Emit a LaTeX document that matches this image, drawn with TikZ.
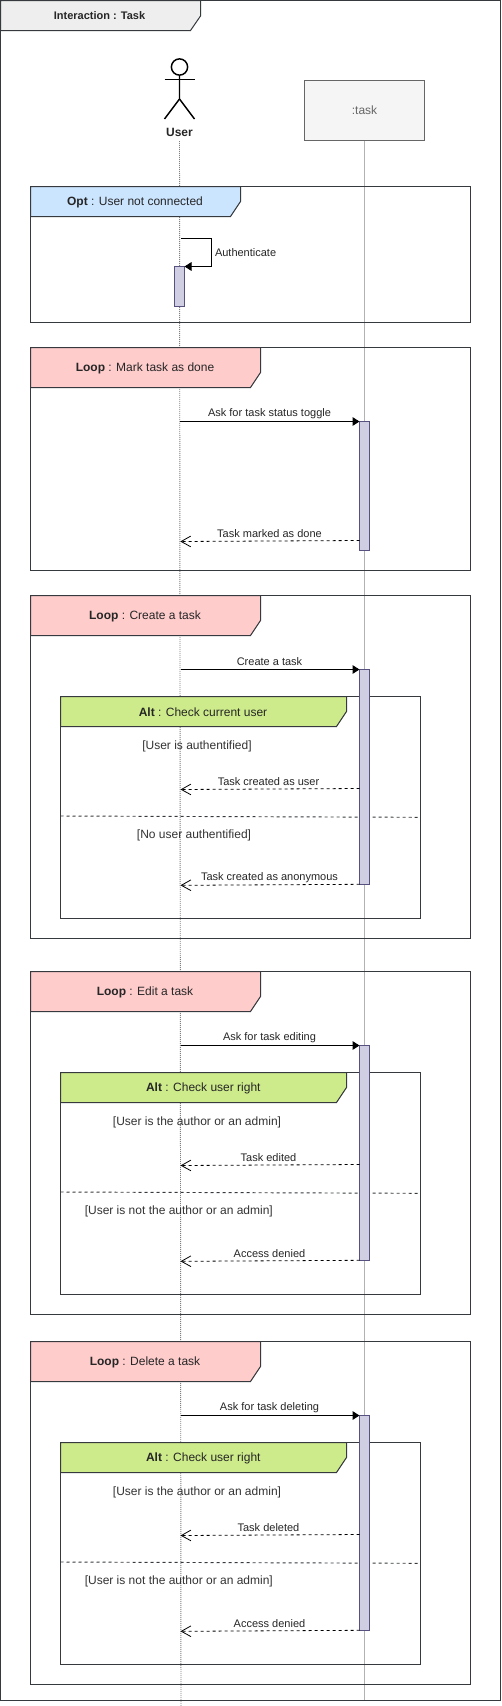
\documentclass[tikz,border=0pt]{standalone}
\usepackage{fontspec}
\setmainfont{Liberation Sans}
\usetikzlibrary{arrows.meta}
\definecolor{fr}{HTML}{36393D}
\definecolor{optc}{HTML}{CCE5FF}
\definecolor{loopc}{HTML}{FFCCCC}
\definecolor{altc}{HTML}{CDEB8B}
\definecolor{hdrc}{HTML}{EEEEEE}
\definecolor{barf}{HTML}{D0CEE2}
\definecolor{bard}{HTML}{56517E}
\definecolor{taskf}{HTML}{F5F5F5}
\definecolor{taskd}{HTML}{666666}
\newcommand{\fmsg}{\fontsize{8.25pt}{10pt}\selectfont}
\newcommand{\ftxt}{\fontsize{9pt}{11pt}\selectfont}
\tikzset{
  x=0.75pt,y=-0.75pt,
  every node/.style={inner sep=0pt,outer sep=0pt},
  base/.style={line width=0.75pt},
  frameline/.style={base,draw=fr},
  header/.style={base,draw=fr},
  title/.style={font=\ftxt,text=black!85,yshift=-1.1pt},
  msgl/.style={font=\fmsg,text=black!85,yshift=-0.9pt},
  cond/.style={font=\ftxt,text=black!80,yshift=-1.1pt},
  bar/.style={base,draw=bard,fill=barf,minimum width=7.5pt,anchor=north},
  callm/.style={base,draw=black,-{Triangle[length=5.25pt,width=6.5pt]}},
  retm/.style={line width=0.6pt,draw=black,dash pattern=on 2.25pt off 2.25pt,-{Straight Barb[length=7.2pt,width=8pt,line width=0.6pt]}},
  divider/.style={line width=0.7pt,draw=fr,dash pattern=on 2.25pt off 2.25pt},
}
\begin{document}
\begin{tikzpicture}
\useasboundingbox[fill=white] (0,0) rectangle (501,1706);

% outer frame and header
\draw[frameline] (0.5,0.5) rectangle (500.5,1700);
\draw[header,fill=hdrc] (0.5,0.5) -- (200.5,0.5) -- (200.5,16) -- (190.5,30.5) -- (0.5,30.5) -- cycle;
\node[font=\fmsg\bfseries,text=black!85,yshift=-0.7pt] (main) at (99.5,15) {Interaction : Task};

% participants
\node[font=\ftxt\bfseries,text=black!85,anchor=north] (user) at (179.5,128) {User};
\node[base,draw=taskd,fill=taskf,minimum width=90pt,minimum height=45pt,anchor=north west,text=taskd,font=\ftxt] (task) at (304.5,80.5) {:task};
\coordinate (userend) at (181,1706);
\coordinate (taskend) at (364.5,1700);
\draw[draw=black!50,line width=0.7pt,dash pattern=on 0.75pt off 0.75pt] (179.5,141) coordinate (userstart) -- (userend);
\draw[base,draw=black!30] (task.south) -- (taskend);

% actor
\node[draw=black,line width=1.1pt,circle,minimum size=12.2pt,fill=white] (head) at (179.5,67) {};
\coordinate (hip) at (179.5,99);
\draw[line width=1.1pt] (head.south) -- (hip) -- (164.5,119);
\draw[line width=1.1pt] (hip) -- (194.5,119);
\draw[line width=1.1pt] (164.5,79.5) -- (194.5,79.5);

% opt
\draw[frameline] (30.5,186.5) rectangle (470.5,322);
\draw[header,fill=optc] (30.5,186.5) -- (240.5,186.5) -- (240.5,201.5) -- (230.5,216.5) -- (30.5,216.5) -- cycle;
\node[title] (optt) at (135,200.5) {\textbf{Opt} : User not connected};
\node[bar,minimum height=30pt] (act1) at (179.5,266.5) {};
\coordinate (selfstart) at (181,238.5);
\draw[callm] (selfstart) -- (211.5,238.5) -- (211.5,266.5) -- (act1.north east);
\node[msgl,anchor=west] (auth) at (215,251) {Authenticate};

% mark
\draw[frameline] (30.5,347.5) rectangle (470.5,570.5);
\draw[header,fill=loopc] (30.5,347.5) -- (260.5,347.5) -- (260.5,372.5) -- (250.5,387.5) -- (30.5,387.5) -- cycle;
\node[title] (markt) at (145,366.5) {\textbf{Loop} : Mark task as done};
\node[bar,minimum height=96.75pt] (act2) at (364.5,421.5) {};
\coordinate (m1) at (180,421.5);
\coordinate (m2) at (180.3,541.5);
\coordinate (m3) at (359.5,540.5);
\draw[callm] (m1) -- (act2.north west);
\draw[retm] (m3) -- (m2);
\node[msgl] (markm) at (269.5,412) {Ask for task status toggle};
\node[msgl] (markr) at (269.5,532) {Task marked as done};

% loop + alt blocks
\foreach \p/\o/\lt/\at/\ax/\msg/\ca/\cax/\ra/\cb/\cbx/\rb in {
  cr/0/Create a task/Check current user/203/Create a task/[User is authentified]/197/Task created as user/[No user authentified]/194/Task created as anonymous,
  ed/376/Edit a task/Check user right/203.3/Ask for task editing/[User is the author or an admin]/197/Task edited/[User is not the author or an admin]/178.8/Access denied,
  de/746/Delete a task/Check user right/203.3/Ask for task deleting/[User is the author or an admin]/197/Task deleted/[User is not the author or an admin]/178.8/Access denied%
}{
  \draw[frameline] (30.5,\o+595.5) rectangle (470.5,\o+938.5);
  \draw[header,fill=loopc] (30.5,\o+595.5) -- (260.5,\o+595.5) -- (260.5,\o+620.5) -- (250.5,\o+635.5) -- (30.5,\o+635.5) -- cycle;
  \node[title] (\p-lt) at (145,\o+614.7) {\textbf{Loop} : \lt};
  \draw[frameline] (60.5,\o+696.5) rectangle (420.5,\o+918.5);
  \draw[header,fill=altc] (60.5,\o+696.5) -- (346.5,\o+696.5) -- (346.5,\o+711.5) -- (336.5,\o+726.5) -- (60.5,\o+726.5) -- cycle;
  \node[title] (\p-at) at (\ax,\o+710.7) {\textbf{Alt} : \at};
  \coordinate (\p-da) at (60.5,\o+816);
  \coordinate (\p-db) at (418.5,\o+817.3);
  \draw[divider] (\p-da) -- (\p-db);
  \node[bar,minimum height=161.25pt] (\p-act) at (364.5,\o+669.5) {};
  \coordinate (\p-c) at (180.5,\o+669.5);
  \coordinate (\p-ra) at (359.5,\o+788.5);
  \coordinate (\p-rb) at (180.5,\o+789.5);
  \coordinate (\p-rc) at (359.5,\o+884.3);
  \coordinate (\p-rd) at (180.5,\o+885.3);
  \draw[callm] (\p-c) -- (\p-act.north west);
  \draw[retm] (\p-ra) -- (\p-rb);
  \draw[retm] (\p-rc) -- (\p-rd);
  \node[msgl] (\p-m) at (269.5,\o+660) {\msg};
  \node[cond] (\p-ca) at (\cax,\o+744.7) {\ca};
  \node[msgl] (\p-mr) at (268.5,\o+780) {\ra};
  \node[cond] (\p-cb) at (\cbx,\o+833.7) {\cb};
  \node[msgl] (\p-ms) at (269.5,\o+876) {\rb};
}
\end{tikzpicture}
\end{document}
